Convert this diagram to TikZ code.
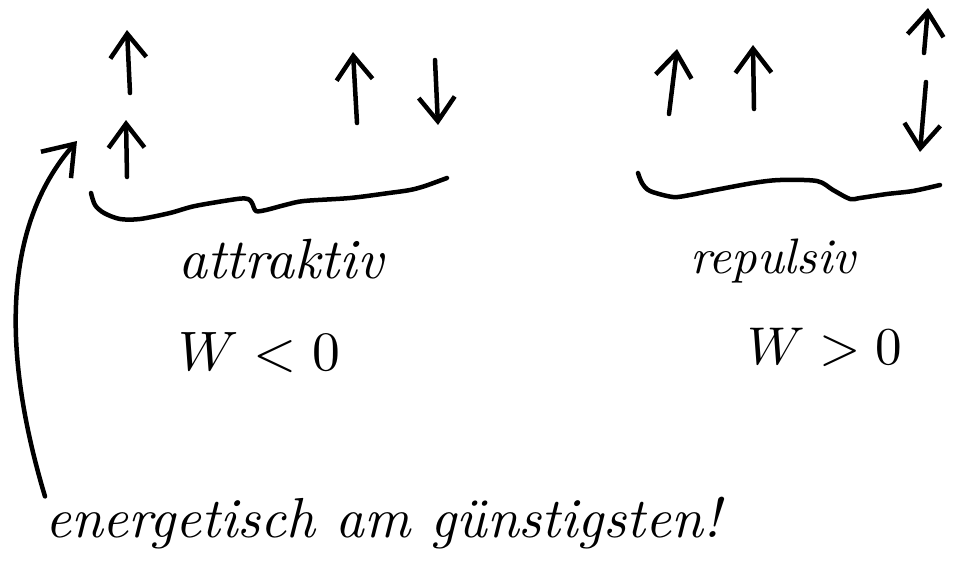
\documentclass[tikz,border=0pt]{standalone}
\usepackage{graphicx}
\usetikzlibrary{arrows.meta}
\begin{document}
\begin{tikzpicture}[x=1pt,y=-1pt,
  ink/.style={line width=4.5pt, line cap=round, line join=round},
  spinarrow/.style={ink, -{Straight Barb[length=24pt,width=36pt]}},
  hand/.style={inner sep=0pt, anchor=base west, font=\itshape}]

\path[use as bounding box] (0,0) rectangle (953,587);

% spins, attractive pair
\draw[spinarrow] (130,93) -- (127,30);
\draw[spinarrow] (127,177) -- (126,120);
\draw[spinarrow] (357,123) -- (353,52);
\draw[spinarrow] (435,60) -- (438,125);

% spins, repulsive pair
\draw[spinarrow] (669,114) -- (677,49);
\draw[spinarrow] (754,109) -- (753,45);
\draw[spinarrow] (924,53) -- (928,8);
\draw[spinarrow] (926,82) -- (920,152);

% braces under the spin pairs
\draw[ink] plot[smooth, tension=0.5] coordinates {(91,193) (95,205) (104,213) (120,219) (140,219) (170,213) (195,206) (237,199) (248,199) (252,203) (256,211) (266,210) (285,205) (304,201) (350,198) (389,193) (410,190) (425,186) (447,178)};
\draw[ink] plot[smooth, tension=0.5] coordinates {(638,173) (642,183) (650,191) (673,197) (690,195) (710,191) (753,183) (780,180) (817,181) (833,190) (850,199) (860,198) (887,194) (913,191) (940,185)};

% labels
\node[hand] (attr) at (178,278) {\resizebox{205pt}{!}{attraktiv}};
\node[hand] (rep) at (690,273) {\resizebox{165pt}{!}{repulsiv}};
\node[hand] (wneg) at (178,370) {\resizebox{162pt}{!}{$W<0$}};
\node[hand] (wpos) at (747,364) {\resizebox{155pt}{!}{$W>0$}};
\node[hand] (energy) at (45,537) {\resizebox{675pt}{!}{energetisch am günstigsten!}};

% pointer from the remark to the parallel spins
\coordinate (hooktip) at (77,141);
\draw[ink, -{Straight Barb[length=28pt,width=40pt]}] (energy.north west) .. controls (-5,330) and (12,215) .. (hooktip);
\end{tikzpicture}
\end{document}
